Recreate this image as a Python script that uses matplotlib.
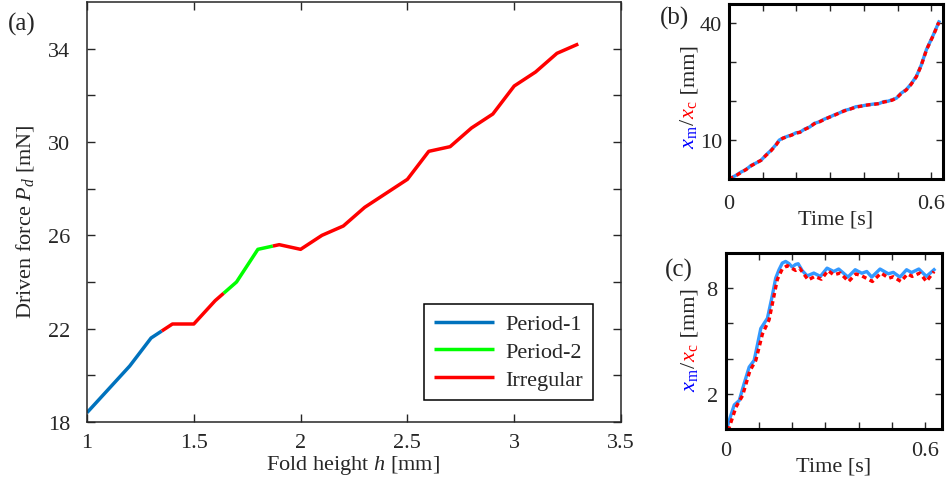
import numpy as np
import matplotlib
matplotlib.use("Agg")
import matplotlib.pyplot as plt

plt.rcParams['font.family'] = 'Liberation Serif'
plt.rcParams['mathtext.fontset'] = 'custom'
plt.rcParams['mathtext.rm'] = 'Liberation Serif'
plt.rcParams['mathtext.it'] = 'Liberation Serif:italic'

# (a) driven force vs fold height
h = np.array([1.0, 1.1, 1.2, 1.3, 1.4, 1.5, 1.6, 1.7, 1.8, 1.9, 2.0, 2.1,
              2.2, 2.3, 2.4, 2.5, 2.6, 2.7, 2.8, 2.9, 3.0, 3.1, 3.2, 3.3])
force = np.array([18.4, 19.4, 20.4, 21.6, 22.2, 22.2, 23.2, 24.0, 25.4, 25.6,
                  25.4, 26.0, 26.4, 27.2, 27.8, 28.4, 29.6, 29.8, 30.6, 31.2,
                  32.4, 33.0, 33.8, 34.2])
regime_edges = [1.35, 1.64, 1.87]
regime_names = ['Period-1', 'Irregular', 'Period-2', 'Irregular']
regime_colors = {'Period-1': '#0072BD', 'Period-2': '#00FF00', 'Irregular': '#FF0000'}
legend_order = ['Period-1', 'Period-2', 'Irregular']

# (b) displacement, case b
t_b = [0, 0.02, 0.036, 0.05, 0.066, 0.08, 0.095, 0.11, 0.125, 0.14, 0.149,
       0.16, 0.174, 0.186, 0.199, 0.21, 0.224, 0.24, 0.253, 0.268, 0.283,
       0.298, 0.313, 0.328, 0.342, 0.36, 0.377, 0.39, 0.401, 0.416, 0.431,
       0.445, 0.46, 0.472, 0.485, 0.497, 0.51, 0.526, 0.54, 0.556, 0.57,
       0.586, 0.605, 0.623]
xm_b = [0.0, 0.9, 1.8, 2.4, 3.5, 4.1, 4.8, 6.2, 7.4, 8.9, 10.0, 10.5, 11.0,
        11.3, 11.9, 12.0, 12.8, 13.4, 14.3, 14.7, 15.4, 15.9, 16.5, 17.0,
        17.6, 18.0, 18.6, 18.7, 18.9, 19.1, 19.3, 19.4, 19.9, 20.0, 20.4,
        20.8, 22.0, 23.0, 24.4, 26.4, 29.2, 33.3, 36.8, 40.4]
xc_b = [0.0, 0.8, 1.7, 2.4, 3.4, 4.1, 4.8, 6.1, 7.3, 8.8, 9.9, 10.5, 10.9,
        11.3, 11.8, 12.0, 12.7, 13.4, 14.2, 14.7, 15.3, 15.9, 16.4, 17.0,
        17.5, 18.0, 18.5, 18.7, 18.9, 19.1, 19.2, 19.4, 19.8, 20.0, 20.3,
        20.8, 21.9, 22.9, 24.3, 26.3, 29.1, 33.2, 36.7, 40.3]

# (c) displacement, case c
t_cm = [0, 0.005, 0.015, 0.025, 0.04, 0.055, 0.07, 0.085, 0.095, 0.105,
        0.125, 0.14, 0.15, 0.16, 0.17, 0.18, 0.19, 0.20, 0.21, 0.218, 0.23,
        0.245, 0.265, 0.285, 0.305, 0.325, 0.34, 0.355, 0.368, 0.39, 0.41,
        0.425, 0.44, 0.465, 0.49, 0.505, 0.525, 0.545, 0.56, 0.582, 0.605,
        0.628]
xm_c = [0, 0.19, 0.8, 1.37, 1.62, 2.6, 3.52, 3.9, 4.8, 5.71, 6.29, 7.6, 8.57,
        9.05, 9.43, 9.52, 9.40, 9.2, 9.35, 9.39, 9.0, 8.70, 8.86, 8.67, 9.14,
        8.95, 9.09, 8.85, 8.63, 9.05, 8.85, 8.95, 8.63, 9.09, 8.82, 8.90,
        8.63, 9.05, 8.89, 9.09, 8.67, 9.05]
t_cc = [0, 0.01, 0.03, 0.05, 0.072, 0.09, 0.11, 0.13, 0.155, 0.17, 0.185,
        0.21, 0.222, 0.248, 0.268, 0.288, 0.308, 0.325, 0.345, 0.37, 0.392,
        0.41, 0.442, 0.468, 0.492, 0.505, 0.528, 0.548, 0.562, 0.585, 0.605,
        0.628]
xc_c = [0, 0.1, 1.24, 1.9, 3.3, 3.9, 5.4, 6.2, 8.5, 9.1, 9.28, 9.01, 9.14,
        8.47, 8.67, 8.51, 9.0, 8.76, 8.86, 8.38, 8.81, 8.7, 8.38, 8.86, 8.57,
        8.65, 8.38, 8.81, 8.67, 8.86, 8.38, 8.95]

dark = '#262626'
W, H = 950, 485
fig = plt.figure(figsize=(9.5, 4.85), dpi=100)


def px_axes(left, top, right, bottom):
    return fig.add_axes([left / W, 1 - bottom / H, (right - left) / W, (bottom - top) / H])


# ---- panel (a)
ax = px_axes(87, 3, 621, 423)
handles = {}
edges = [h[0]] + regime_edges + [h[-1]]
for i in range(len(edges) - 1):
    lo, hi = edges[i], edges[i + 1]
    xs = np.concatenate([[lo], h[(h > lo) & (h < hi)], [hi]])
    ys = np.interp(xs, h, force)
    name = regime_names[i]
    ln, = ax.plot(xs, ys, color=regime_colors[name], lw=2.5, solid_capstyle='butt')
    handles.setdefault(name, ln)

ax.set_xlim(1, 3.5)
ax.set_ylim(18, 36)
ax.set_xticks(np.arange(1, 3.51, 0.5))
ax.set_xticklabels(['1', '1.5', '2', '2.5', '3', '3.5'])
ax.set_yticks(np.arange(18, 35, 2))
ax.set_yticklabels(['18', '', '22', '', '26', '', '30', '', '34'])
ax.tick_params(direction='in', top=True, right=True, length=6, width=1,
               color=dark, labelcolor=dark, labelsize=16)
ax.tick_params(axis='y', pad=12)
ax.tick_params(axis='x', pad=8)
for s in ax.spines.values():
    s.set_color(dark)
    s.set_linewidth(1.1)
ax.set_xlabel('Fold height $h$ [mm]', fontsize=16, color=dark)
ax.set_ylabel('Driven force $P_d$ [mN]', fontsize=16, color=dark)
ax.xaxis.set_label_coords(0.498, -0.075)
ax.yaxis.set_label_coords(-0.095, 0.48)
leg = ax.legend([handles[n] for n in legend_order], legend_order, loc='lower right',
                bbox_to_anchor=(0.948, 0.052), borderaxespad=0, fontsize=16,
                fancybox=False, edgecolor='black', framealpha=1, handlelength=2.7,
                handletextpad=0.5, labelspacing=0.33, borderpad=0.45)
leg.get_frame().set_linewidth(1.1)
for txt in leg.get_texts():
    txt.set_color(dark)
fig.text(8 / W, 1 - 31 / H, '(a)', fontsize=18, color=dark)


def small_panel(box, t_m, y_m, t_c, y_c, xmax, ylim, yticks, ylabels, xpad, ypad):
    a = px_axes(*box)
    a.plot(t_m, y_m, color='#3399FF', lw=2.4)
    a.plot(t_c, y_c, color='#FF0000', lw=2.4, ls=(0, (1.4, 1.1)))
    a.set_xlim(0, xmax)
    a.set_ylim(*ylim)
    a.set_xticks(np.arange(0, 0.61, 0.1))
    a.set_xticklabels(['0', '', '', '', '', '', '0.6'])
    a.set_yticks(yticks)
    a.set_yticklabels(ylabels)
    a.tick_params(direction='in', top=True, right=True, length=5, width=1,
                  color=dark, labelcolor=dark, labelsize=16)
    a.tick_params(axis='x', pad=xpad)
    a.tick_params(axis='y', pad=ypad)
    for s in a.spines.values():
        s.set_color('black')
        s.set_linewidth(2.2)
    a.set_xlabel('Time [s]', fontsize=16, color=dark, labelpad=-3)
    return a


ax_b = small_panel((729, 5, 943, 180), t_b, xm_b, t_b, xc_b, 0.635, (0, 45),
                   [10, 20, 30, 40], ['10', '', '', '40'], 11, 5)
ax_c = small_panel((726, 254, 942, 430), t_cm, xm_c, t_cc, xc_c, 0.652, (0, 10),
                   [2, 4, 6, 8], ['2', '', '', '8'], 9, 6)
fig.text(660 / W, 1 - 25 / H, '(b)', fontsize=18, color=dark)
fig.text(665 / W, 1 - 277 / H, '(c)', fontsize=18, color=dark)


def colored_ylabel(x_px, yc_px, parts):
    texts = []
    for s, c in parts:
        texts.append(fig.text(x_px / W, 0.5, s, color=c, fontsize=16, rotation=90,
                              rotation_mode='anchor', ha='left', va='baseline'))
    fig.canvas.draw()
    r = fig.canvas.get_renderer()
    lens = [tx.get_window_extent(r).height for tx in texts]
    y = (H - yc_px) - sum(lens) / 2
    for tx, L in zip(texts, lens):
        tx.set_position((x_px / W, y / H))
        y += L


label_parts = [(r'$x_{\rm m}$', '#0000FF'), ('/', dark), (r'$x_{\rm c}$', '#FF0000'),
               (' [mm]', dark)]
colored_ylabel(694, 97, label_parts)
colored_ylabel(695, 340, label_parts)

fig.savefig('out.png', dpi=100)
